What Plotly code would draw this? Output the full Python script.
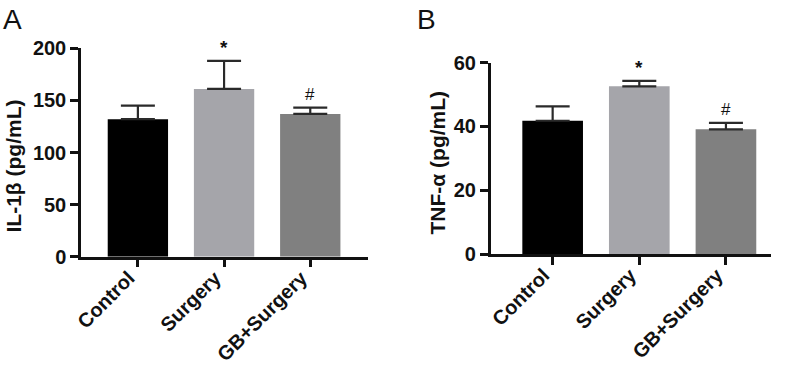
import plotly.graph_objects as go

categories = ["Control", "Surgery", "GB+Surgery"]
bar_colors = ["#000000", "#a5a5aa", "#808080"]

il1b_mean = [132, 161, 137]
il1b_err = [13, 27, 6]
il1b_marks = ["*", "#"]
il1b_ticks = [0, 50, 100, 150, 200]
il1b_title = "IL-1β (pg/mL)"

tnf_mean = [41.8, 52.6, 39.1]
tnf_err = [4.5, 1.7, 2.0]
tnf_marks = ["*", "#"]
tnf_ticks = [0, 20, 40, 60]
tnf_title = "TNF-α (pg/mL)"

FONT = "Liberation Sans, Arial, sans-serif"

fig = go.Figure()

def add_panel(means, errs, xa, ya):
    fig.add_trace(go.Bar(
        x=categories, y=means, width=0.7,
        marker=dict(color=bar_colors, line=dict(width=0)),
        error_y=dict(type="data", array=errs, arrayminus=[0]*len(errs), symmetric=False,
                     color="#2a2a2a", thickness=2.2, width=17),
        xaxis=xa, yaxis=ya, showlegend=False,
    ))

add_panel(il1b_mean, il1b_err, "x", "y")
add_panel(tnf_mean, tnf_err, "x2", "y2")

W, H = 786, 371
axis_common = dict(showline=True, linecolor="#111111", linewidth=2.5, ticks="outside",
                   ticklen=8, tickwidth=2.5, tickcolor="#111111", showgrid=False, zeroline=False,
                   automargin=False)
ytickfont = dict(family=FONT, size=20, color="#111111")
xtickfont = dict(family=FONT, size=20, color="#111111")
title_font = dict(family=FONT, size=21, color="#111111")
bold = lambda s: f"<b>{s}</b>"

xcommon = dict(type="category", categoryorder="array", categoryarray=categories,
               tickvals=categories, ticktext=[bold(c) for c in categories], tickfont=xtickfont,
               tickangle=-45, ticklabelstandoff=-9, ticklabelshift=-9)

fig.update_layout(
    width=W, height=H, margin=dict(l=0, r=0, t=0, b=0, autoexpand=False),
    paper_bgcolor="white", plot_bgcolor="white", bargap=0.3,
    xaxis=dict(domain=[81/W, 368/W], range=[-0.66, 2.67], anchor="y", **xcommon, **axis_common),
    yaxis=dict(domain=[(H-256.7)/H, (H-48.3)/H], range=[0, 200], anchor="x",
               tickvals=il1b_ticks, ticktext=[bold(t) for t in il1b_ticks], tickfont=ytickfont,
               **axis_common),
    xaxis2=dict(domain=[490.7/W, 771/W], range=[-0.715, 2.52], anchor="y2", **xcommon, **axis_common),
    yaxis2=dict(domain=[(H-254)/H, (H-62.7)/H], range=[0, 60], anchor="x2",
                tickvals=tnf_ticks, ticktext=[bold(t) for t in tnf_ticks], tickfont=ytickfont,
                **axis_common),
)

annots = []
for xr, yr, means, errs, marks in [("x", "y", il1b_mean, il1b_err, il1b_marks),
                                    ("x2", "y2", tnf_mean, tnf_err, tnf_marks)]:
    for c, m, e, t in zip(categories[1:], means[1:], errs[1:], marks):
        txt = bold(t) if t == "*" else t
        annots.append(dict(x=c, y=m + e, xref=xr, yref=yr, text=txt, showarrow=False,
                           yanchor="bottom", yshift=1 if t == "*" else 2,
                           font=dict(family=FONT, size=19 if t == "*" else 17, color="#111111")))
# y-axis titles
annots.append(dict(x=12.5/W, y=1 - 166/H, xref="paper", yref="paper", text=bold(il1b_title),
                   textangle=-90, showarrow=False, xanchor="center", yanchor="middle", font=title_font))
annots.append(dict(x=436.5/W, y=1 - 162/H, xref="paper", yref="paper", text=bold(tnf_title),
                   textangle=-90, showarrow=False, xanchor="center", yanchor="middle", font=title_font))
# panel letters
annots.append(dict(x=1/W, y=1 - 2/H, xref="paper", yref="paper", text="A", showarrow=False,
                   xanchor="left", yanchor="top", font=dict(family=FONT, size=28, color="#111111")))
annots.append(dict(x=415/W, y=1 - 2/H, xref="paper", yref="paper", text="B", showarrow=False,
                   xanchor="left", yanchor="top", font=dict(family=FONT, size=28, color="#111111")))
fig.update_layout(annotations=annots)

fig.write_html("out.html", config={"displayModeBar": False},
               post_script="document.body.style.margin='0';document.body.style.overflow='hidden';")
